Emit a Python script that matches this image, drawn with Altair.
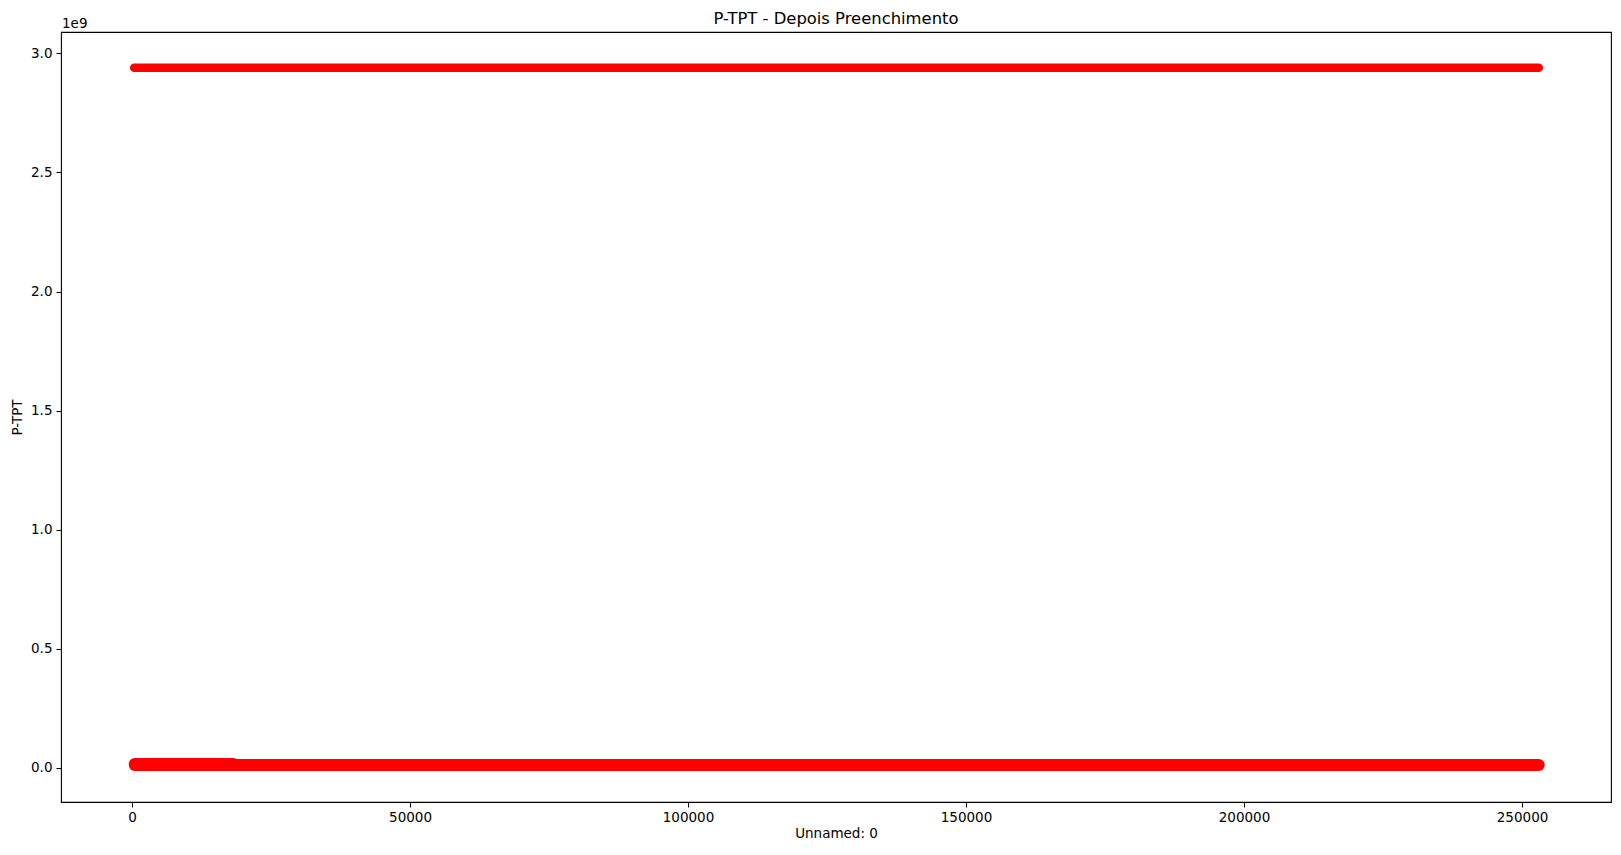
import altair as alt
import pandas as pd

# --- data ---
top_x = [400, 253000]
top_y = [2.94e9, 2.94e9]

bottom_x = [500, 253000]
bottom_y = [0.0113e9, 0.0113e9]

early_x = [500, 18200]
early_y = [0.0155e9, 0.0155e9]

x_ticks = [0, 50000, 100000, 150000, 200000, 250000]
y_ticks = [0.0, 0.5e9, 1.0e9, 1.5e9, 2.0e9, 2.5e9, 3.0e9]

FONT = "DejaVu Sans"
RED = "#ff0000"

def seg(xs, ys):
    return pd.DataFrame({"x": [xs[0]], "x2": [xs[1]], "y": [ys[0]]})

xscale = alt.Scale(domain=[-12770, 266000], nice=False, zero=False)
yscale = alt.Scale(domain=[-0.144e9, 3.0899e9], nice=False, zero=False)

xaxis = alt.Axis(values=x_ticks, format="d", grid=False, domain=False,
                 tickSize=5, tickColor="black", tickWidth=1,
                 labelFont=FONT, labelFontSize=13.5, labelColor="black",
                 labelPadding=3, title="Unnamed: 0", titleFont=FONT,
                 titleFontSize=13.5, titleFontWeight="normal", titleColor="black",
                 titlePadding=3, labelFlush=False)
yaxis = alt.Axis(values=y_ticks, labelExpr="format(datum.value/1e9, '.1f')",
                 grid=False, domain=False, tickSize=5, tickColor="black",
                 tickWidth=1, labelFont=FONT, labelFontSize=13.5,
                 labelColor="black", labelPadding=4, title="P-TPT",
                 titleFont=FONT, titleFontSize=13.5, titleFontWeight="normal",
                 titleColor="black", titlePadding=6, labelFlush=False)

def rule(df, width):
    return alt.Chart(df).mark_rule(color=RED, strokeWidth=width, strokeCap="round").encode(
        x=alt.X("x:Q", scale=xscale, axis=xaxis),
        x2="x2:Q",
        y=alt.Y("y:Q", scale=yscale, axis=yaxis),
    )

top = rule(seg(top_x, top_y), 8.6)
bottom = rule(seg(bottom_x, bottom_y), 12)
early = rule(seg(early_x, early_y), 12)

offset_text = alt.Chart(pd.DataFrame({"t": ["1e9"]})).mark_text(
    align="left", baseline="alphabetic", font=FONT, fontSize=13.5, color="black"
).encode(x=alt.value(1), y=alt.value(-4), text="t:N")

chart = alt.layer(bottom, early, top, offset_text).properties(
    width=1550, height=770,
    background="white",
    title=alt.TitleParams("P-TPT - Depois Preenchimento", font=FONT, fontSize=16.4,
                          fontWeight="normal", color="black", anchor="middle",
                          offset=6, dy=16),
    autosize=alt.AutoSizeParams(type="none"),
    padding={"left": 61, "top": 32, "right": 10, "bottom": 53},
).configure_view(stroke="black", strokeWidth=1.1)

chart.save("out.html", embed_options={"renderer": "svg", "actions": False})
